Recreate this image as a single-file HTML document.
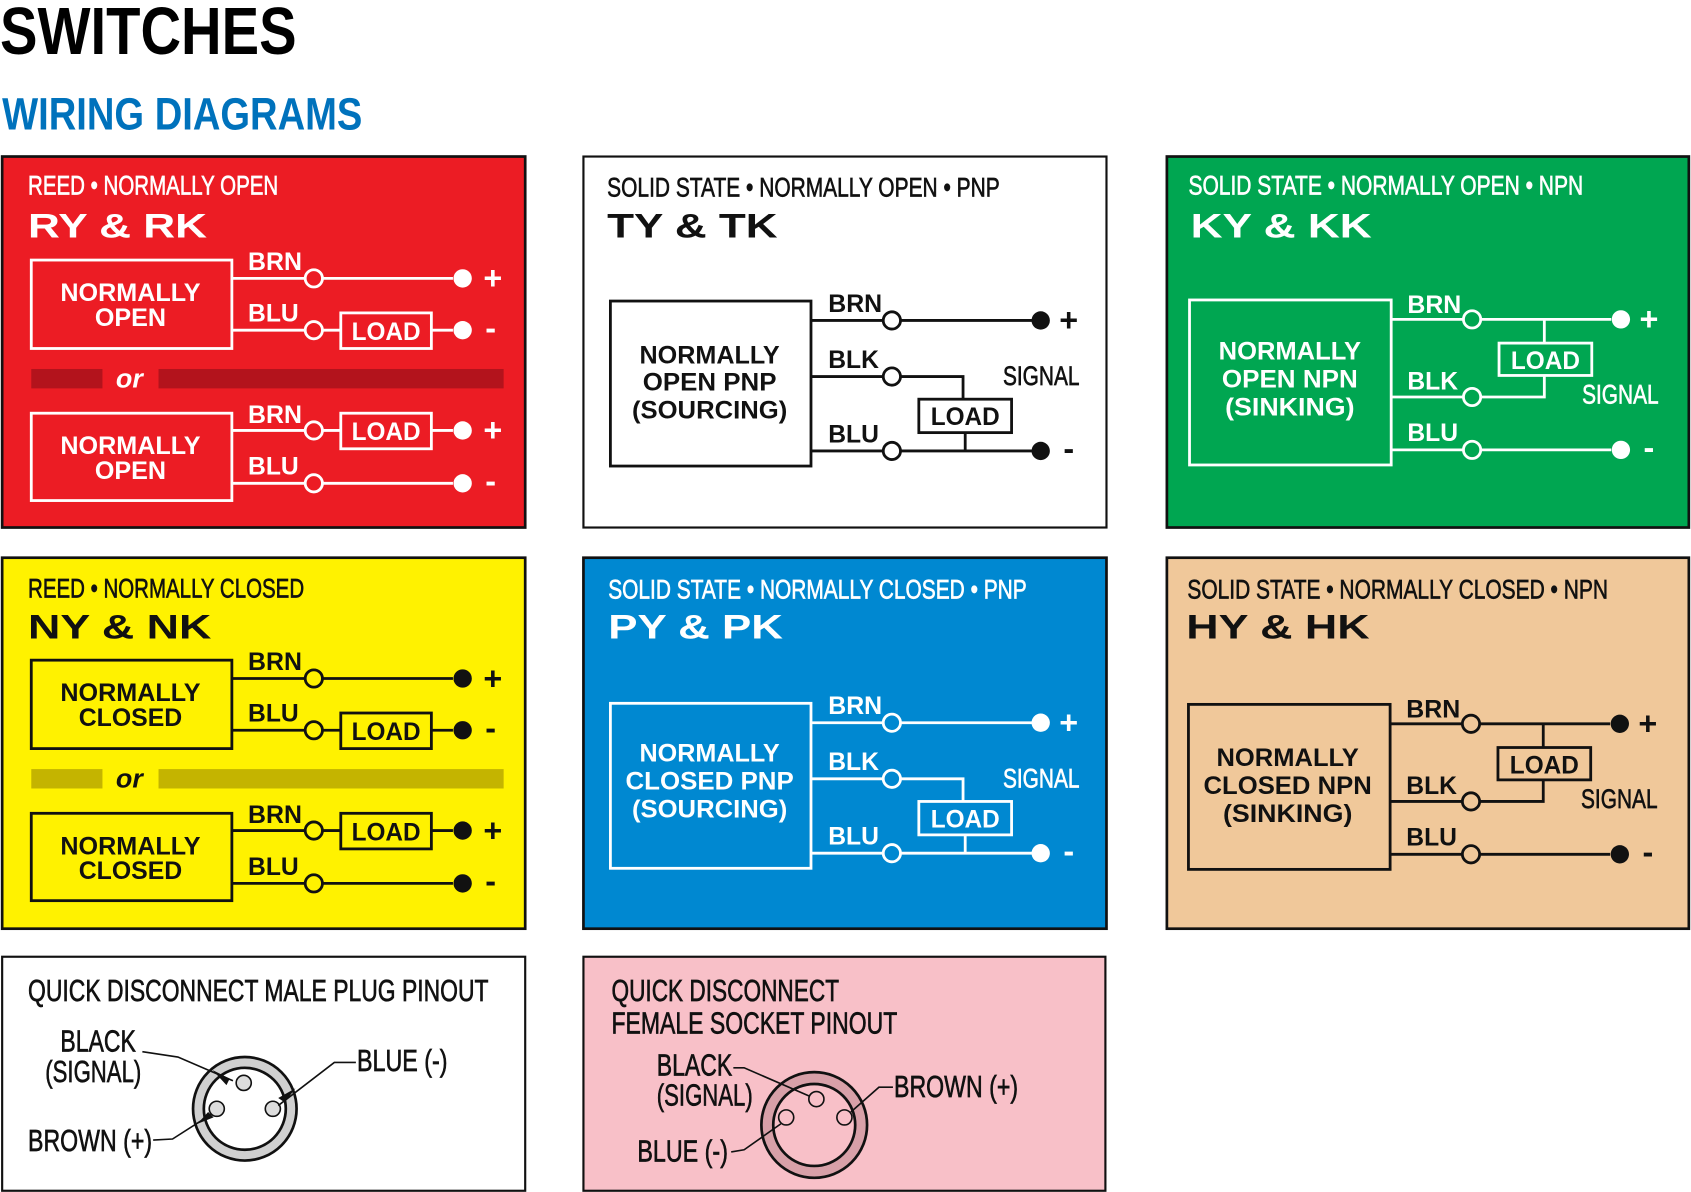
<!DOCTYPE html>
<html><head><meta charset="utf-8"><style>
html,body{margin:0;padding:0;background:#fff}
svg{display:block}
text{fill:currentColor;font-family:"Liberation Sans Narrow","Liberation Sans",sans-serif}
.n{font-family:"Liberation Sans Narrow","Liberation Sans",sans-serif;font-size:25px;stroke:currentColor;stroke-width:0.6}
.b{font-family:"Liberation Sans",sans-serif;font-weight:bold;font-size:23px}
.t{font-family:"Liberation Sans",sans-serif;font-weight:900;font-size:32px}
.l{stroke:currentColor;stroke-width:2.6;fill:none}
.h{stroke:currentColor;stroke-width:2.6;fill:var(--bg)}
.d{fill:currentColor}
</style></head><body>
<svg width="1691" height="1192" viewBox="0 0 1568 1105" xmlns="http://www.w3.org/2000/svg">
<defs>
<g id="reed">
 <rect class="l" x="29" y="241" width="186" height="82"/>
 <text class="b" x="121" y="279" text-anchor="middle" textLength="130" lengthAdjust="spacingAndGlyphs">NORMALLY</text>
 <text class="b" x="230" y="250" textLength="50" lengthAdjust="spacingAndGlyphs">BRN</text>
 <text class="b" x="230" y="298" textLength="47" lengthAdjust="spacingAndGlyphs">BLU</text>
 <path class="l" d="M215 258H283M299 258H420M215 306H283M299 306H316M400 306H420"/>
 <circle class="h" cx="291" cy="258" r="8"/><circle class="d" cx="429" cy="258" r="8.5"/>
 <circle class="h" cx="291" cy="306" r="8"/><circle class="d" cx="429" cy="306" r="8.5"/>
 <rect class="l" x="316" y="290" width="84" height="33"/>
 <text class="b" x="358" y="315" text-anchor="middle" textLength="64" lengthAdjust="spacingAndGlyphs">LOAD</text>
 <text class="b" x="457" y="268" text-anchor="middle" style="font-size:30px">+</text>
 <text class="b" x="455" y="314" text-anchor="middle" style="font-size:30px">-</text>
 <rect x="29" y="342" width="66" height="18" style="fill:var(--bar)"/>
 <rect x="147" y="342" width="320" height="18" style="fill:var(--bar)"/>
 <text x="120" y="359" text-anchor="middle" style="font-family:'Liberation Sans',sans-serif;font-weight:900;font-style:italic;font-size:25px">or</text>
 <rect class="l" x="29" y="383" width="186" height="81"/>
 <text class="b" x="121" y="421" text-anchor="middle" textLength="130" lengthAdjust="spacingAndGlyphs">NORMALLY</text>
 <text class="b" x="230" y="392" textLength="50" lengthAdjust="spacingAndGlyphs">BRN</text>
 <text class="b" x="230" y="440" textLength="47" lengthAdjust="spacingAndGlyphs">BLU</text>
 <path class="l" d="M215 399H283M299 399H316M400 399H420M215 448H283M299 448H420"/>
 <circle class="h" cx="291" cy="399" r="8"/><circle class="d" cx="429" cy="399" r="8.5"/>
 <circle class="h" cx="291" cy="448" r="8"/><circle class="d" cx="429" cy="448" r="8.5"/>
 <rect class="l" x="316" y="383" width="84" height="33"/>
 <text class="b" x="358" y="408" text-anchor="middle" textLength="64" lengthAdjust="spacingAndGlyphs">LOAD</text>
 <text class="b" x="457" y="409" text-anchor="middle" style="font-size:30px">+</text>
 <text class="b" x="455" y="456" text-anchor="middle" style="font-size:30px">-</text>
</g>
<g id="pnp">
 <rect class="l" x="566" y="279" width="186" height="153"/>
 <text class="b" x="768" y="289" textLength="50" lengthAdjust="spacingAndGlyphs">BRN</text>
 <text class="b" x="768" y="341" textLength="47" lengthAdjust="spacingAndGlyphs">BLK</text>
 <text class="b" x="768" y="410" textLength="47" lengthAdjust="spacingAndGlyphs">BLU</text>
 <path class="l" d="M752 297H819M835 297H957M752 349H819M835 349H893V370M895 401V418M752 418H819M835 418H957"/>
 <circle class="h" cx="827" cy="297" r="8"/><circle class="d" cx="965" cy="297" r="8.5"/>
 <circle class="h" cx="827" cy="349" r="8"/>
 <circle class="h" cx="827" cy="418" r="8"/><circle class="d" cx="965" cy="418" r="8.5"/>
 <rect class="l" x="852" y="370" width="86" height="31"/>
 <text class="b" x="895" y="394" text-anchor="middle" textLength="64" lengthAdjust="spacingAndGlyphs">LOAD</text>
 <text class="n" x="930" y="357" textLength="71" lengthAdjust="spacingAndGlyphs">SIGNAL</text>
 <text class="b" x="991" y="307" text-anchor="middle" style="font-size:30px">+</text>
 <text class="b" x="991" y="426" text-anchor="middle" style="font-size:30px">-</text>
</g>
<g id="npn">
 <rect class="l" x="1103" y="278" width="187" height="153"/>
 <text class="b" x="1305" y="290" textLength="50" lengthAdjust="spacingAndGlyphs">BRN</text>
 <text class="b" x="1305" y="361" textLength="47" lengthAdjust="spacingAndGlyphs">BLK</text>
 <text class="b" x="1305" y="409" textLength="47" lengthAdjust="spacingAndGlyphs">BLU</text>
 <path class="l" d="M1290 296H1357M1373 296H1494M1432 296V318M1290 368H1357M1373 368H1432V348M1290 417H1357M1373 417H1494"/>
 <circle class="h" cx="1365" cy="296" r="8"/><circle class="d" cx="1503" cy="296" r="8.5"/>
 <circle class="h" cx="1365" cy="368" r="8"/>
 <circle class="h" cx="1365" cy="417" r="8"/><circle class="d" cx="1503" cy="417" r="8.5"/>
 <rect class="l" x="1390" y="318" width="86" height="30"/>
 <text class="b" x="1433" y="342" text-anchor="middle" textLength="64" lengthAdjust="spacingAndGlyphs">LOAD</text>
 <text class="n" x="1467" y="374" textLength="71" lengthAdjust="spacingAndGlyphs">SIGNAL</text>
 <text class="b" x="1529" y="306" text-anchor="middle" style="font-size:30px">+</text>
 <text class="b" x="1529" y="425" text-anchor="middle" style="font-size:30px">-</text>
</g>
</defs>

<text x="0" y="50" style="font-family:'Liberation Sans Narrow','Liberation Sans',sans-serif;font-weight:bold;font-size:62px" textLength="275" lengthAdjust="spacingAndGlyphs">SWITCHES</text>
<text x="2" y="120" style="fill:#0072bc;font-family:'Liberation Sans Narrow','Liberation Sans',sans-serif;font-weight:bold;font-size:42px" textLength="334" lengthAdjust="spacingAndGlyphs">WIRING DIAGRAMS</text>

<g style="color:#fff;--bg:#ec1c24;--bar:#b3131c">
 <rect x="2" y="145" width="485" height="344" fill="#ec1c24" stroke="#111" stroke-width="2.5"/>
 <text class="n" x="26" y="180" textLength="232" lengthAdjust="spacingAndGlyphs">REED • NORMALLY OPEN</text>
 <text class="t" x="26" y="220" textLength="166" lengthAdjust="spacingAndGlyphs">RY &amp; RK</text>
 <use href="#reed"/>
 <text class="b" x="121" y="302" text-anchor="middle" textLength="66" lengthAdjust="spacingAndGlyphs">OPEN</text>
 <text class="b" x="121" y="444" text-anchor="middle" textLength="66" lengthAdjust="spacingAndGlyphs">OPEN</text>
</g>
<g style="color:#111;--bg:#fff">
 <rect x="541" y="145" width="485" height="344" fill="#fff" stroke="#111" stroke-width="2"/>
 <text class="n" x="563" y="182" textLength="364" lengthAdjust="spacingAndGlyphs">SOLID STATE • NORMALLY OPEN • PNP</text>
 <text class="t" x="563" y="220" textLength="158" lengthAdjust="spacingAndGlyphs">TY &amp; TK</text>
 <use href="#pnp"/>
 <text class="b" x="658" y="337" text-anchor="middle" textLength="130" lengthAdjust="spacingAndGlyphs">NORMALLY</text>
 <text class="b" x="658" y="362" text-anchor="middle" textLength="124" lengthAdjust="spacingAndGlyphs">OPEN PNP</text>
 <text class="b" x="658" y="388" text-anchor="middle" textLength="144" lengthAdjust="spacingAndGlyphs">(SOURCING)</text>
</g>
<g style="color:#fff;--bg:#00a651">
 <rect x="1082" y="145" width="484" height="344" fill="#00a651" stroke="#111" stroke-width="2.5"/>
 <text class="n" x="1102" y="180" textLength="366" lengthAdjust="spacingAndGlyphs">SOLID STATE • NORMALLY OPEN • NPN</text>
 <text class="t" x="1104" y="220" textLength="168" lengthAdjust="spacingAndGlyphs">KY &amp; KK</text>
 <use href="#npn"/>
 <text class="b" x="1196" y="333" text-anchor="middle" textLength="132" lengthAdjust="spacingAndGlyphs">NORMALLY</text>
 <text class="b" x="1196" y="359" text-anchor="middle" textLength="126" lengthAdjust="spacingAndGlyphs">OPEN NPN</text>
 <text class="b" x="1196" y="385" text-anchor="middle" textLength="120" lengthAdjust="spacingAndGlyphs">(SINKING)</text>
</g>
<g style="color:#111;--bg:#fff200;--bar:#c4b400">
 <rect x="2" y="517" width="485" height="344" fill="#fff200" stroke="#111" stroke-width="2.5"/>
 <text class="n" x="26" y="554" textLength="256" lengthAdjust="spacingAndGlyphs">REED • NORMALLY CLOSED</text>
 <text class="t" x="26" y="592" textLength="170" lengthAdjust="spacingAndGlyphs">NY &amp; NK</text>
 <use href="#reed" transform="translate(0,371)"/>
 <text class="b" x="121" y="673" text-anchor="middle" textLength="96" lengthAdjust="spacingAndGlyphs">CLOSED</text>
 <text class="b" x="121" y="815" text-anchor="middle" textLength="96" lengthAdjust="spacingAndGlyphs">CLOSED</text>
</g>
<g style="color:#fff;--bg:#0088d1">
 <rect x="541" y="517" width="485" height="344" fill="#0088d1" stroke="#111" stroke-width="2.5"/>
 <text class="n" x="564" y="555" textLength="388" lengthAdjust="spacingAndGlyphs">SOLID STATE • NORMALLY CLOSED • PNP</text>
 <text class="t" x="564" y="592" textLength="162" lengthAdjust="spacingAndGlyphs">PY &amp; PK</text>
 <use href="#pnp" transform="translate(0,373)"/>
 <text class="b" x="658" y="706" text-anchor="middle" textLength="130" lengthAdjust="spacingAndGlyphs">NORMALLY</text>
 <text class="b" x="658" y="732" text-anchor="middle" textLength="156" lengthAdjust="spacingAndGlyphs">CLOSED PNP</text>
 <text class="b" x="658" y="758" text-anchor="middle" textLength="144" lengthAdjust="spacingAndGlyphs">(SOURCING)</text>
</g>
<g style="color:#111;--bg:#f0c89a">
 <rect x="1082" y="517" width="484" height="344" fill="#f0c89a" stroke="#111" stroke-width="2.5"/>
 <text class="n" x="1101" y="555" textLength="390" lengthAdjust="spacingAndGlyphs">SOLID STATE • NORMALLY CLOSED • NPN</text>
 <text class="t" x="1100" y="592" textLength="170" lengthAdjust="spacingAndGlyphs">HY &amp; HK</text>
 <use href="#npn" transform="translate(-1,375)"/>
 <text class="b" x="1194" y="710" text-anchor="middle" textLength="132" lengthAdjust="spacingAndGlyphs">NORMALLY</text>
 <text class="b" x="1194" y="736" text-anchor="middle" textLength="156" lengthAdjust="spacingAndGlyphs">CLOSED NPN</text>
 <text class="b" x="1194" y="762" text-anchor="middle" textLength="120" lengthAdjust="spacingAndGlyphs">(SINKING)</text>
</g>

<g style="color:#111">
 <rect x="2" y="887" width="485" height="217" fill="#fff" stroke="#111" stroke-width="2"/>
 <text class="n" x="26" y="928" style="font-size:28px" textLength="427" lengthAdjust="spacingAndGlyphs">QUICK DISCONNECT MALE PLUG PINOUT</text>
 <circle cx="227" cy="1028" r="48" fill="#d0d0d0" stroke="#111" stroke-width="2.5"/>
 <circle cx="227" cy="1028" r="38" fill="#fff" stroke="#111" stroke-width="2.5"/>
 <circle cx="226" cy="1004" r="7" fill="#ddd" stroke="#111" stroke-width="1.5"/>
 <circle cx="201" cy="1028" r="7" fill="#ddd" stroke="#111" stroke-width="1.5"/>
 <circle cx="253" cy="1028" r="7" fill="#ddd" stroke="#111" stroke-width="1.5"/>
 <path class="l" style="stroke-width:1.5" d="M132 975L165 980L216 1002M330 985H310L258 1025M142 1057L160 1056L196 1033"/>
 <path d="M197 992L213 1000L210 1006Z M274 1009L264 1022L258 1018Z M183 1042L193 1031L198 1036Z" fill="#111"/>
 <text class="n" x="56" y="975" style="font-size:28px" textLength="70" lengthAdjust="spacingAndGlyphs">BLACK</text>
 <text class="n" x="42" y="1003" style="font-size:28px" textLength="89" lengthAdjust="spacingAndGlyphs">(SIGNAL)</text>
 <text class="n" x="331" y="993" style="font-size:28px" textLength="84" lengthAdjust="spacingAndGlyphs">BLUE (-)</text>
 <text class="n" x="26" y="1067" style="font-size:28px" textLength="115" lengthAdjust="spacingAndGlyphs">BROWN (+)</text>
</g>
<g style="color:#111">
 <rect x="541" y="887" width="484" height="217" fill="#f8c0c8" stroke="#111" stroke-width="2"/>
 <text class="n" x="567" y="928" style="font-size:28px" textLength="211" lengthAdjust="spacingAndGlyphs">QUICK DISCONNECT</text>
 <text class="n" x="567" y="958" style="font-size:28px" textLength="265" lengthAdjust="spacingAndGlyphs">FEMALE SOCKET PINOUT</text>
 <circle cx="755" cy="1043" r="49" fill="#d8a0a8" stroke="#111" stroke-width="2.5"/>
 <circle cx="755" cy="1043" r="38" fill="#f8c0c8" stroke="#111" stroke-width="2.5"/>
 <circle cx="757" cy="1019" r="7" fill="#f8c0c8" stroke="#111" stroke-width="1.5"/>
 <circle cx="729" cy="1036" r="7" fill="#f8c0c8" stroke="#111" stroke-width="1.5"/>
 <circle cx="783" cy="1036" r="7" fill="#f8c0c8" stroke="#111" stroke-width="1.5"/>
 <path class="l" style="stroke-width:1.5" d="M680 990H690L750 1016M828 1008H815L789 1031M678 1068L690 1066L724 1042"/>
 <text class="n" x="609" y="997" style="font-size:28px" textLength="70" lengthAdjust="spacingAndGlyphs">BLACK</text>
 <text class="n" x="609" y="1025" style="font-size:28px" textLength="89" lengthAdjust="spacingAndGlyphs">(SIGNAL)</text>
 <text class="n" x="829" y="1017" style="font-size:28px" textLength="115" lengthAdjust="spacingAndGlyphs">BROWN (+)</text>
 <text class="n" x="591" y="1077" style="font-size:28px" textLength="84" lengthAdjust="spacingAndGlyphs">BLUE (-)</text>
</g>
</svg>
</body></html>
